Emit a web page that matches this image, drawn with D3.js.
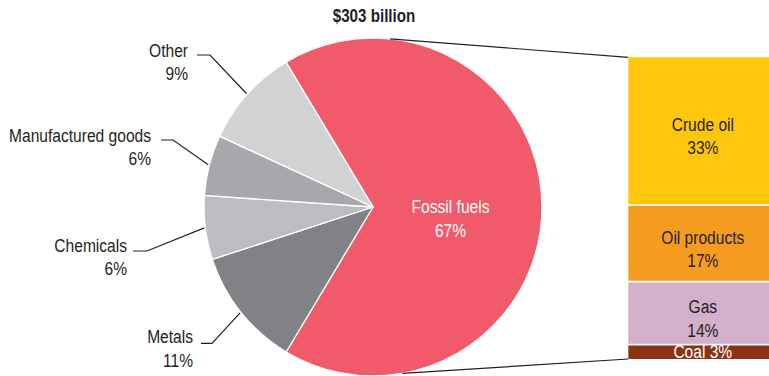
<!DOCTYPE html>
<html>
<head>
<meta charset="utf-8">
<script src="https://cdn.jsdelivr.net/npm/d3@7"></script>
<style>
  body { margin: 0; background: #fff; }
  svg text { font-family: "Liberation Sans Narrow", "Liberation Sans", Arial, sans-serif; }
</style>
</head>
<body>
<svg id="chart" width="769" height="376"></svg>
<script>
// --- data ---
var title = "$303 billion";
var sliceNames = ["Fossil fuels", "Metals", "Chemicals", "Manufactured goods", "Other"];
// shares
var sliceValues = [67.2, 11.4, 6.1, 5.8, 9.5];
// percentages as printed on the chart
var sliceLabels = ["67%", "11%", "6%", "6%", "9%"];
var sliceColors = ["#f05a6a", "#808285", "#bcbdc0", "#a7a8ab", "#d1d2d4"];

var fuelNames = ["Crude oil", "Oil products", "Gas", "Coal"];
var fuelValues = [33, 17, 14, 3];
var fuelColors = ["#fec70b", "#f59c20", "#d4afcb", "#8a3414"];

// --- layout ---
var cx = 373, cy = 207, R = 169;
var startDeg = -31;
var barX = 628.3, barW = 150, barTop = 57.3, barBottom = 359;
var textColor = "#231f20";
var squeeze = 0.82;   // narrow-font look (no condensed font installed)

// label placement for the small slices: elbow x, horizontal end, label baseline
var labelPos = {
  "Metals":             { x0: 201, x1: 212, y: 343.3, tx: 193, ty: 343.3 },
  "Chemicals":          { x0: 133, x1: 147, y: 251,   tx: 127, ty: 251.7 },
  "Manufactured goods": { x0: 161, x1: 173, y: 140,   tx: 151, ty: 141.7 },
  "Other":              { x0: 197, x1: 210, y: 55,    tx: 188, ty: 57 }
};

var svg = d3.select("#chart");

// two-line (or one-line) label, squeezed horizontally
function label(x, y, lines, anchor, color, size, weight) {
  var t = svg.append("text")
    .attr("transform", "translate(" + x + "," + y + ") scale(" + squeeze + ",1)")
    .attr("text-anchor", anchor)
    .attr("font-size", size || 19)
    .attr("font-weight", weight || "normal")
    .attr("fill", color);
  lines.forEach(function(s, i) {
    t.append("tspan").attr("x", 0).attr("y", i * 23.3).text(s);
  });
  return t;
}

// title
label(374, 22, [title], "middle", textColor, 18.5, "bold");

// --- pie ---
var slices = sliceNames.map(function(n, i) {
  return { name: n, value: sliceValues[i], text: sliceLabels[i], color: sliceColors[i] };
});
var rad = Math.PI / 180;
var pie = d3.pie().sort(null).value(d => d.value)
  .startAngle(startDeg * rad).endAngle((startDeg + 360) * rad);
var arcs = pie(slices);
var arc = d3.arc().innerRadius(0).outerRadius(R);

var g = svg.append("g").attr("transform", "translate(" + cx + "," + cy + ")");
g.selectAll("path")
  .data(arcs)
  .enter()
  .append("path")
  .attr("d", arc)
  .attr("fill", d => d.data.color)
  .attr("stroke", "#fff")
  .attr("stroke-width", 1.3);

function edgePoint(angle, r) {
  return [cx + r * Math.sin(angle), cy - r * Math.cos(angle)];
}

// leader lines + labels for small slices
arcs.slice(1).forEach(function(a) {
  var p = labelPos[a.data.name];
  var mid = (a.startAngle + a.endAngle) / 2;
  var e = edgePoint(mid, R + 1);
  svg.append("path")
    .attr("d", "M" + p.x0 + "," + p.y + "L" + p.x1 + "," + p.y + "L" + e[0] + "," + e[1])
    .attr("fill", "none")
    .attr("stroke", textColor)
    .attr("stroke-width", 1.2);
  label(p.tx, p.ty, [a.data.name, a.data.text], "end", textColor);
});

// fossil fuels label
label(450.5, 213.3, [sliceNames[0], sliceLabels[0]], "middle", "#fff");

// --- connector lines ---
var topPt = edgePoint(5.8 * rad, R);
var botPt = edgePoint(170 * rad, R);
svg.append("line")
  .attr("x1", topPt[0]).attr("y1", topPt[1])
  .attr("x2", barX).attr("y2", barTop)
  .attr("stroke", textColor).attr("stroke-width", 1.2);
svg.append("line")
  .attr("x1", botPt[0]).attr("y1", botPt[1])
  .attr("x2", barX).attr("y2", barBottom)
  .attr("stroke", textColor).attr("stroke-width", 1.2);

// --- stacked breakdown bar ---
var y = d3.scaleLinear().domain([0, d3.sum(fuelValues)]).range([barTop, barBottom]);
var cum = 0;
var fuels = fuelNames.map(function(n, i) {
  var d = { name: n, value: fuelValues[i], color: fuelColors[i], y0: cum, y1: cum + fuelValues[i] };
  cum += fuelValues[i];
  return d;
});

svg.selectAll("rect.fuel")
  .data(fuels)
  .enter()
  .append("rect")
  .attr("class", "fuel")
  .attr("x", barX)
  .attr("y", d => y(d.y0))
  .attr("width", barW)
  .attr("height", (d, i) => y(d.y1) - y(d.y0) - (i < fuels.length - 1 ? 1.7 : 0))
  .attr("fill", d => d.color);

var labelX = barX + barW / 2 - 0.5;
fuels.forEach(function(d, i) {
  if (i === fuels.length - 1) {
    label(labelX, 357.7, [d.name + " " + d.value + "%"], "middle", "#fff");
    return;
  }
  var mid = (y(d.y0) + y(d.y1)) / 2;
  label(labelX, mid - 0.5, [d.name, d.value + "%"], "middle", textColor);
});
</script>
</body>
</html>
